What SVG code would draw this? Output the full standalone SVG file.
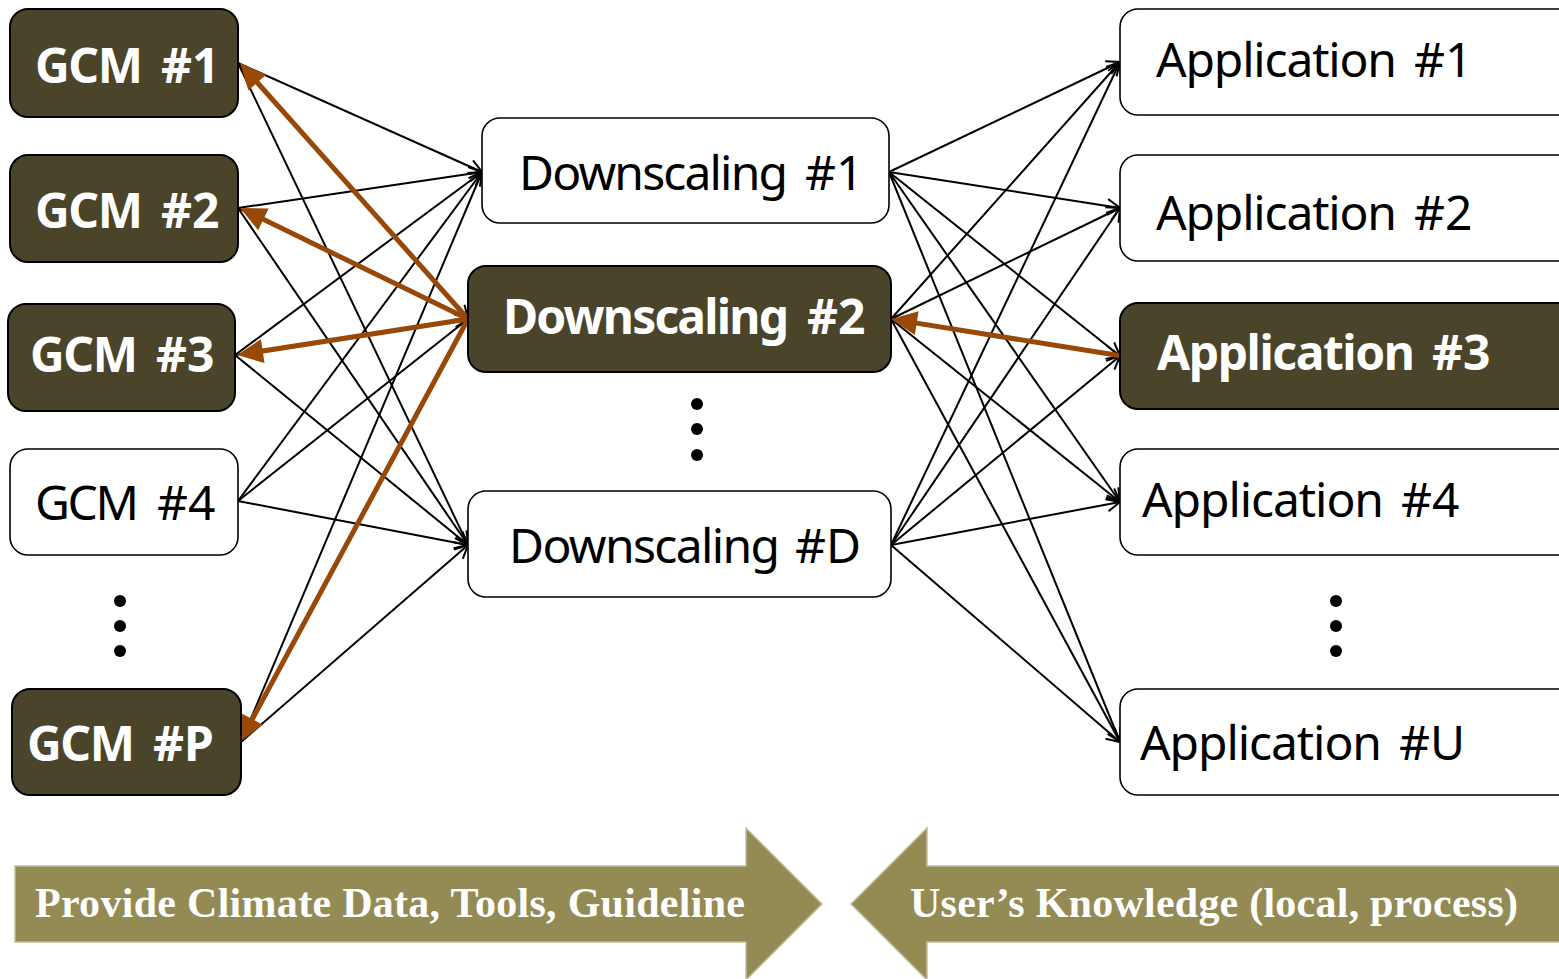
<svg xmlns="http://www.w3.org/2000/svg" width="1559" height="979" viewBox="0 0 1559 979">
<style>
.dark{fill:#4a452a;stroke:#000;stroke-width:2}
.light{fill:#fff;stroke:#000;stroke-width:1.6}
.tw{font-family:"Noto Sans","Open Sans",sans-serif;font-size:48px;font-weight:bold;fill:#fff}
.tb{font-family:"Noto Sans","Open Sans",sans-serif;font-size:48px;fill:#000}
.ln{stroke:#000;stroke-width:2;fill:none;marker-end:url(#open)}
.br{stroke:#984807;stroke-width:5;fill:none;marker-end:url(#solid)}
.dot{fill:#000}
.band{fill:#948a54;stroke:#c4bd97;stroke-width:1.5}
.bt{font-family:"Liberation Serif","Times New Roman",serif;font-size:42px;font-weight:bold;fill:#fff}
</style>
<defs>
<marker id="open" viewBox="-16 -9 18 18" markerWidth="18" markerHeight="18" refX="0" refY="0" markerUnits="userSpaceOnUse" orient="auto">
<path d="M-13,-7 L0,0 L-13,7" fill="none" stroke="#000" stroke-width="2"/>
</marker>
<marker id="solid" viewBox="-18 -14 30 28" markerWidth="30" markerHeight="28" refX="0" refY="0" markerUnits="userSpaceOnUse" orient="auto">
<path d="M-16,-12 L10,0 L-16,12 Z" fill="#984807"/>
</marker>
</defs>

<g id="connectors">
<line class="ln" x1="238" y1="63" x2="482" y2="172"/>
<line class="ln" x1="238" y1="63" x2="468" y2="319"/>
<line class="ln" x1="238" y1="63" x2="468" y2="545"/>
<line class="ln" x1="238" y1="208" x2="482" y2="172"/>
<line class="ln" x1="238" y1="208" x2="468" y2="319"/>
<line class="ln" x1="238" y1="208" x2="468" y2="545"/>
<line class="ln" x1="235" y1="355" x2="482" y2="172"/>
<line class="ln" x1="235" y1="355" x2="468" y2="319"/>
<line class="ln" x1="235" y1="355" x2="468" y2="545"/>
<line class="ln" x1="238" y1="501" x2="482" y2="172"/>
<line class="ln" x1="238" y1="501" x2="468" y2="319"/>
<line class="ln" x1="238" y1="501" x2="468" y2="545"/>
<line class="ln" x1="241" y1="742" x2="482" y2="172"/>
<line class="ln" x1="241" y1="742" x2="468" y2="319"/>
<line class="ln" x1="241" y1="742" x2="468" y2="545"/>
<line class="ln" x1="889" y1="172" x2="1120" y2="62"/>
<line class="ln" x1="889" y1="172" x2="1120" y2="208"/>
<line class="ln" x1="889" y1="172" x2="1120" y2="356"/>
<line class="ln" x1="889" y1="172" x2="1120" y2="502"/>
<line class="ln" x1="889" y1="172" x2="1120" y2="742"/>
<line class="ln" x1="891" y1="319" x2="1120" y2="62"/>
<line class="ln" x1="891" y1="319" x2="1120" y2="208"/>
<line class="ln" x1="891" y1="319" x2="1120" y2="356"/>
<line class="ln" x1="891" y1="319" x2="1120" y2="502"/>
<line class="ln" x1="891" y1="319" x2="1120" y2="742"/>
<line class="ln" x1="891" y1="545" x2="1120" y2="62"/>
<line class="ln" x1="891" y1="545" x2="1120" y2="208"/>
<line class="ln" x1="891" y1="545" x2="1120" y2="356"/>
<line class="ln" x1="891" y1="545" x2="1120" y2="502"/>
<line class="ln" x1="891" y1="545" x2="1120" y2="742"/>
<line class="br" x1="468" y1="319" x2="246.7" y2="70.5"/>
<line class="br" x1="468" y1="319" x2="249" y2="212.4"/>
<line class="br" x1="468" y1="319" x2="246.9" y2="353.5"/>
<line class="br" x1="468" y1="319" x2="244.7" y2="733.2"/>
<line class="br" x1="1122" y1="356" x2="900.9" y2="320.6"/>
</g>

<g id="gcm1"><rect class="dark" x="10" y="9" width="228" height="108" rx="18"/><text class="tw" y="83"><tspan x="35" textLength="108">GCM</tspan><tspan x="161">#1</tspan></text></g>
<g id="gcm2"><rect class="dark" x="10" y="155" width="228" height="107" rx="18"/><text class="tw" y="228"><tspan x="35" textLength="108">GCM</tspan><tspan x="161">#2</tspan></text></g>
<g id="gcm3"><rect class="dark" x="8" y="304" width="227" height="107" rx="18"/><text class="tw" y="372"><tspan x="30" textLength="108">GCM</tspan><tspan x="156">#3</tspan></text></g>
<g id="gcm4"><rect class="light" x="10" y="449" width="228" height="106" rx="18"/><text class="tb" y="520"><tspan x="35" textLength="104">GCM</tspan><tspan x="157">#4</tspan></text></g>
<g id="gcm-dots"><circle class="dot" cx="120" cy="601" r="6"/><circle class="dot" cx="120" cy="626" r="6"/><circle class="dot" cx="120" cy="651" r="6"/></g>
<g id="gcmP"><rect class="dark" x="12" y="689" width="229" height="106" rx="18"/><text class="tw" y="761"><tspan x="27" textLength="108">GCM</tspan><tspan x="153">#P</tspan></text></g>

<g id="ds1"><rect class="light" x="482" y="118" width="407" height="105" rx="18"/><text class="tb" y="190"><tspan x="519" textLength="269">Downscaling</tspan><tspan x="805">#1</tspan></text></g>
<g id="ds2"><rect class="dark" x="468" y="266" width="423" height="106" rx="18"/><text class="tw" y="334"><tspan x="503" textLength="286">Downscaling</tspan><tspan x="807">#2</tspan></text></g>
<g id="ds-dots"><circle class="dot" cx="697" cy="404" r="6"/><circle class="dot" cx="697" cy="429" r="6"/><circle class="dot" cx="697" cy="455" r="6"/></g>
<g id="dsD"><rect class="light" x="468" y="491" width="423" height="106" rx="18"/><text class="tb" y="563"><tspan x="509" textLength="271">Downscaling</tspan><tspan x="795">#D</tspan></text></g>

<g id="app1"><rect class="light" x="1120" y="9" width="460" height="106" rx="18"/><text class="tb" y="77"><tspan x="1156" textLength="241">Application</tspan><tspan x="1414">#1</tspan></text></g>
<g id="app2"><rect class="light" x="1120" y="155" width="460" height="106" rx="18"/><text class="tb" y="230"><tspan x="1156" textLength="241">Application</tspan><tspan x="1414">#2</tspan></text></g>
<g id="app3"><rect class="dark" x="1120" y="303" width="460" height="106" rx="18"/><text class="tw" y="370"><tspan x="1157" textLength="258">Application</tspan><tspan x="1432">#3</tspan></text></g>
<g id="app4"><rect class="light" x="1120" y="449" width="460" height="106" rx="18"/><text class="tb" y="517"><tspan x="1142" textLength="242">Application</tspan><tspan x="1401">#4</tspan></text></g>
<g id="app-dots"><circle class="dot" cx="1336" cy="601" r="6"/><circle class="dot" cx="1336" cy="626" r="6"/><circle class="dot" cx="1336" cy="651" r="6"/></g>
<g id="appU"><rect class="light" x="1120" y="689" width="460" height="106" rx="18"/><text class="tb" y="760"><tspan x="1140" textLength="242">Application</tspan><tspan x="1399">#U</tspan></text></g>

<g id="provide-arrow"><polygon class="band" points="15,866 746,866 746,828 822,904 746,980 746,942 15,942"/><text class="bt" x="35" y="917" textLength="710">Provide Climate Data, Tools, Guideline</text></g>
<g id="knowledge-arrow"><polygon class="band" points="1565,866 927,866 927,828 851,904 927,980 927,942 1565,942"/><text class="bt" x="910" y="917" textLength="608">User’s Knowledge (local, process)</text></g>
</svg>
